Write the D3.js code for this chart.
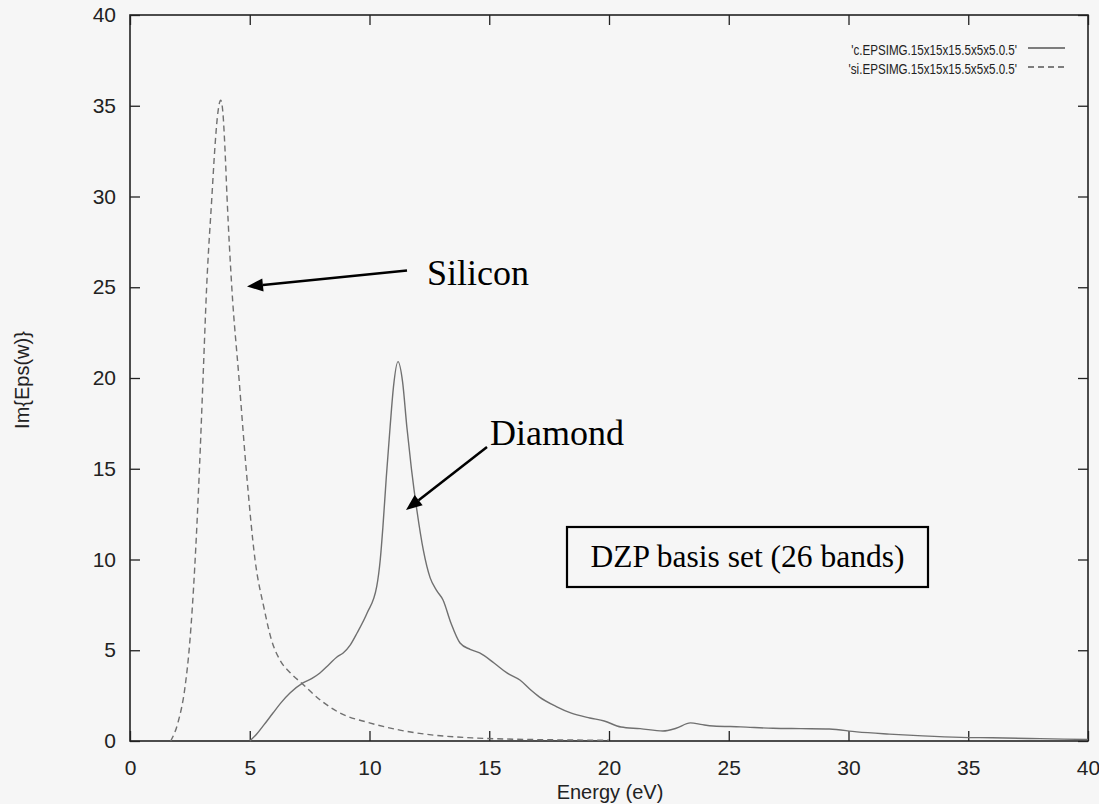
<!DOCTYPE html>
<html>
<head>
<meta charset="utf-8">
<script src="https://cdn.jsdelivr.net/npm/d3@7"></script>
<style>
  html, body { margin: 0; padding: 0; background: #f6f6f6; }
  svg { display: block; }
</style>
</head>
<body>
<svg id="chart" width="1099" height="804"></svg>
<script>
// ---- Data ----
const xTicks = [0, 5, 10, 15, 20, 25, 30, 35, 40];
const yTicks = [0, 5, 10, 15, 20, 25, 30, 35, 40];

const siEnergy = [1.7, 2.0, 2.3, 2.5, 2.7, 2.9, 3.05, 3.2, 3.42, 3.55, 3.65, 3.79, 3.88, 3.97, 4.05, 4.25, 4.55, 4.85, 5.22, 5.6, 5.9, 6.26, 6.7, 7.17, 8.0, 8.77, 10.0, 11.27, 12.5, 14.3, 16.0, 18.0, 20.0];
const siValues = [0, 1.0, 3.0, 5.5, 9.5, 15, 20, 25, 30, 32.8, 34.4, 35.3, 34.6, 32.5, 30, 25, 20, 15, 10, 7.3, 5.6, 4.46, 3.75, 3.18, 2.2, 1.54, 1.0, 0.6, 0.35, 0.17, 0.1, 0.06, 0.04];

const cEnergy = [5.0, 5.3, 5.6, 5.97, 6.3, 6.68, 7.22, 7.6, 7.93, 8.3, 8.64, 8.9, 9.2, 9.48, 9.9, 10.3, 10.45, 10.56, 10.7, 10.86, 11.0, 11.19, 11.38, 11.56, 11.75, 11.98, 12.25, 12.53, 12.8, 13.07, 13.4, 13.78, 14.2, 14.6, 15.2, 15.74, 16.28, 16.7, 17.1, 17.8, 18.4, 19.2, 19.8, 20.5, 21.3, 22.25, 22.8, 23.4, 23.9, 24.35, 25.5, 26.85, 28.0, 29.2, 30.35, 31.7, 33.1, 34.7, 36.0, 38.0, 40.0];
const cValues = [0, 0.4, 0.9, 1.54, 2.1, 2.64, 3.2, 3.45, 3.75, 4.2, 4.63, 4.85, 5.3, 5.95, 7.05, 8.5, 10, 11.8, 14.5, 17.3, 19.5, 20.9, 19.8, 17.3, 15, 12.7, 10.5, 9.0, 8.3, 7.77, 6.5, 5.4, 5.05, 4.85, 4.3, 3.75, 3.36, 2.85, 2.42, 1.9, 1.55, 1.27, 1.1, 0.77, 0.68, 0.55, 0.7, 1.0, 0.9, 0.83, 0.78, 0.7, 0.68, 0.66, 0.5, 0.38, 0.28, 0.2, 0.18, 0.13, 0.08];

const legendLabels = ["'c.EPSIMG.15x15x15.5x5x5.0.5'", "'si.EPSIMG.15x15x15.5x5x5.0.5'"];
const xLabel = "Energy (eV)";
const yLabel = "Im{Eps(w)}";

// ---- Layout ----
const svg = d3.select("#chart");
const L = 130, R = 1088, T = 15, B = 741;
const x = d3.scaleLinear().domain([0, 40]).range([L, R]);
const y = d3.scaleLinear().domain([0, 40]).range([B, T]);

svg.append("rect").attr("width", 1099).attr("height", 804).attr("fill", "#f6f6f6");

const sans = "'Liberation Sans', Arial, Helvetica, sans-serif";
const serif = "'Liberation Serif', 'Times New Roman', serif";

// Axes (gnuplot style: inward ticks, mirrored)
const axisColor = "#222";
function styleAxis(g) {
  g.select(".domain").remove();
  g.selectAll(".tick line").attr("stroke", axisColor).attr("stroke-width", 1.3);
  g.selectAll(".tick text").attr("font-family", sans).attr("font-size", 21).attr("fill", "#222");
}
svg.append("g").attr("transform", `translate(0,${B})`)
  .call(d3.axisBottom(x).tickValues(xTicks).tickSizeInner(-10).tickSizeOuter(0).tickPadding(19))
  .call(styleAxis);
svg.append("g").attr("transform", `translate(0,${T})`)
  .call(d3.axisTop(x).tickValues(xTicks).tickSizeInner(-10).tickSizeOuter(0).tickFormat(""))
  .call(styleAxis);
svg.append("g").attr("transform", `translate(${L},0)`)
  .call(d3.axisLeft(y).tickValues(yTicks).tickSizeInner(-10).tickSizeOuter(0).tickPadding(14))
  .call(styleAxis);
svg.append("g").attr("transform", `translate(${R},0)`)
  .call(d3.axisRight(y).tickValues(yTicks).tickSizeInner(-10).tickSizeOuter(0).tickFormat(""))
  .call(styleAxis);

svg.append("rect").attr("x", L).attr("y", T).attr("width", R - L).attr("height", B - T)
  .attr("fill", "none").attr("stroke", axisColor).attr("stroke-width", 1.6);

// Axis labels
svg.append("text").attr("x", 610).attr("y", 799).attr("text-anchor", "middle")
  .attr("font-family", sans).attr("font-size", 20).attr("fill", "#222").text(xLabel);
svg.append("text").attr("transform", "translate(29,380) rotate(-90)").attr("text-anchor", "middle")
  .attr("font-family", sans).attr("font-size", 20).attr("fill", "#222").text(yLabel);

// Curves
const line = d3.line().x(d => x(d[0])).y(d => y(d[1])).curve(d3.curveMonotoneX);
const siData = siEnergy.map((e, i) => [e, siValues[i]]);
const cData = cEnergy.map((e, i) => [e, cValues[i]]);

svg.append("path").datum(cData).attr("d", line).attr("fill", "none")
  .attr("stroke", "#707070").attr("stroke-width", 1.4);
svg.append("path").datum(siData).attr("d", line).attr("fill", "none")
  .attr("stroke", "#707070").attr("stroke-width", 1.4).attr("stroke-dasharray", "6,4");

// Legend
const legY = [55, 74];
legendLabels.forEach((lab, i) => {
  svg.append("g").attr("transform", `translate(1017,${legY[i]}) scale(0.75,1)`)
    .append("text").attr("x", 0).attr("y", 0).attr("text-anchor", "end")
    .attr("font-family", sans).attr("font-size", 15.5).attr("fill", "#222")
    .text(lab);
  svg.append("line").attr("x1", 1028).attr("x2", 1065).attr("y1", legY[i] - 7).attr("y2", legY[i] - 7)
    .attr("stroke", "#555").attr("stroke-width", 1.4)
    .attr("stroke-dasharray", i === 0 ? null : "6,4");
});

// Annotations
function arrow(x1, y1, x2, y2) {
  const ang = Math.atan2(y2 - y1, x2 - x1);
  const len = 16, w = 6.5;
  const bx = x2 - len * Math.cos(ang), by = y2 - len * Math.sin(ang);
  svg.append("line").attr("x1", x1).attr("y1", y1).attr("x2", bx).attr("y2", by)
    .attr("stroke", "#000").attr("stroke-width", 2.5);
  const px = -Math.sin(ang) * w, py = Math.cos(ang) * w;
  svg.append("path")
    .attr("d", `M${x2},${y2} L${bx + px},${by + py} L${bx - px},${by - py} Z`)
    .attr("fill", "#000");
}
arrow(407, 270.5, 247, 286.5);
arrow(487, 447, 406, 510);

svg.append("text").attr("x", 427).attr("y", 285).attr("font-family", serif)
  .attr("font-size", 36).attr("fill", "#000").text("Silicon");
svg.append("text").attr("x", 490).attr("y", 445).attr("font-family", serif)
  .attr("font-size", 36).attr("fill", "#000").text("Diamond");

svg.append("rect").attr("x", 567).attr("y", 527).attr("width", 361).attr("height", 60)
  .attr("fill", "none").attr("stroke", "#000").attr("stroke-width", 2.2);
svg.append("text").attr("x", 747.5).attr("y", 567).attr("text-anchor", "middle")
  .attr("font-family", serif).attr("font-size", 31.5).attr("fill", "#000").text("DZP basis set (26 bands)");
</script>
</body>
</html>
